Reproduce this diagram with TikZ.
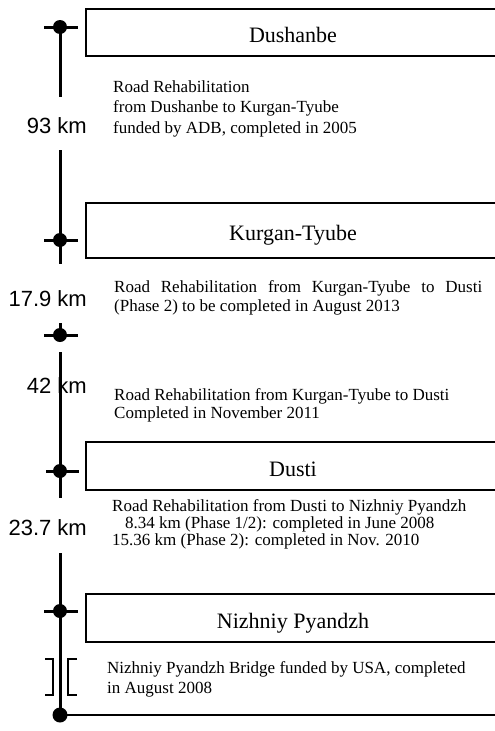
\documentclass[tikz,border=0pt]{standalone}
\usepackage{fontspec}
\setmainfont{Liberation Serif}
\newfontfamily\labelfont{Liberation Sans}
\begin{document}
\begin{tikzpicture}[x=1pt,y=-1pt,
  citybox/.style={draw, line width=2.2pt, minimum width=414pt, inner sep=0pt,
    font=\fontsize{22}{26}\selectfont, text height=21pt, text depth=1pt},
  stopdot/.style={circle, fill=black, inner sep=0pt, minimum size=14pt},
  bodytext/.style={anchor=base west, inner sep=0pt, font=\fontsize{17}{20}\selectfont},
  kmlabel/.style={anchor=base east, inner sep=0pt, font=\labelfont\fontsize{22}{26}\selectfont},
  road/.style={line width=3pt},
  thinline/.style={line width=2.4pt}]
\useasboundingbox (0,0) rectangle (495,731);
\clip (0,0) rectangle (495,731);

% city boxes (right side runs off the picture)
\node[citybox, minimum height=47pt]   (dushanbe) at (293,32.5)  {Dushanbe};
\node[citybox, minimum height=54.5pt] (kurgan)   at (293,230.5) {Kurgan-Tyube};
\node[citybox, minimum height=48pt]   (dusti)    at (293,466)   {Dusti};
\node[citybox, minimum height=48pt]   (nizh)     at (293,618)   {Nizhniy Pyandzh};

% stops
\node[stopdot] (s1) at (60,27) {};
\node[stopdot] (s2) at (60,240) {};
\node[stopdot] (s3) at (60,335) {};
\node[stopdot] (s4) at (60,471) {};
\node[stopdot] (s5) at (60,611) {};
\node[stopdot, minimum size=15pt] (s6) at (60,715) {};

% cross bars
\foreach \s in {s1,s2,s3,s5}
  \draw[road] ([xshift=-16pt]\s.center) -- ([xshift=18pt]\s.center);
\draw[road] ([xshift=-14pt]s4.center) -- ([xshift=19pt]s4.center);

% distance labels
\node[kmlabel] (k93)  at (87,133) {93 km};
\node[kmlabel] (k179) at (87,306) {17.9 km};
\node[kmlabel] (k42)  at (87,393) {42 km};
\node[kmlabel] (k237) at (87,535) {23.7 km};

% road line
\coordinate (r1) at (60,97);
\coordinate (r2) at (60,150);
\coordinate (r3) at (60,264);
\coordinate (r4) at (60,323);
\coordinate (r5) at (60,352);
\coordinate (r6) at (60,498);
\coordinate (r7) at (60,553);
\coordinate (bend) at (500,715);
\draw[road] (s1.center) -- (r1);
\draw[road] (r2) -- (s2.center) -- (r3);
\draw[road] (r4) -- (s3.center);
\draw[road] (r5) -- (s4.center) -- (r6);
\draw[road] (r7) -- (s5.center) -- (s6.center);
\draw[thinline] (s6.center) -- (bend);

% bridge brackets
\draw[thinline] (45,659) -- (53,659) -- (53,695) -- (45,695);
\draw[thinline] (77,659) -- (68,659) -- (68,695) -- (77,695);

% descriptions
\node[bodytext] (t1) at (113,92) {\vtop{\baselineskip=20.5pt
  \hbox{Road Rehabilitation}
  \hbox{from Dushanbe to Kurgan-Tyube}
  \hbox{funded by ADB, completed in 2005}}};
\node[bodytext] (t2) at (114,292) {\vtop{\baselineskip=19.5pt
  \hbox to 368pt{Road Rehabilitation from Kurgan-Tyube to Dusti}
  \hbox{(Phase 2) to be completed in August 2013}}};
\node[bodytext] (t3) at (114,400) {\vtop{\baselineskip=18pt
  \hbox{Road Rehabilitation from Kurgan-Tyube to Dusti}
  \hbox{Completed in November 2011}}};
\node[bodytext] (t4) at (112,511) {\vtop{\baselineskip=17.2pt
  \hbox{Road Rehabilitation from Dusti to Nizhniy Pyandzh}
  \hbox{\kern13pt 8.34 km (Phase 1/2): completed in June 2008}
  \hbox{15.36 km (Phase 2): completed in Nov. 2010}}};
\node[bodytext] (t5) at (107,673) {\vtop{\baselineskip=20pt
  \hbox{Nizhniy Pyandzh Bridge funded by USA, completed}
  \hbox{in August 2008}}};
\end{tikzpicture}
\end{document}
